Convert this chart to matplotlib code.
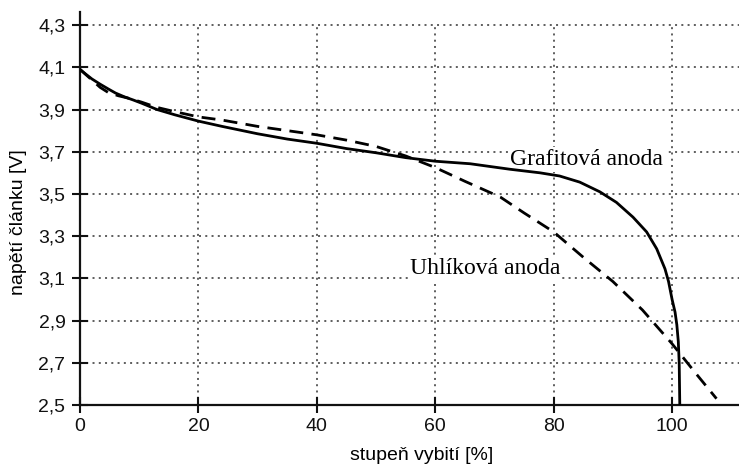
import matplotlib
matplotlib.use("Agg")
import matplotlib.pyplot as plt

# Grafitová anoda (solid)
graf_x = [0, 1, 2, 3.4, 4.8, 6, 7.5, 9, 10.4, 13, 16, 20, 24, 30, 35, 40, 45, 50, 55, 60, 65.9,
          72.6, 77.7, 81, 84.4, 87.8, 90.6, 93.4, 95.7, 97.4, 98.8, 99.4, 100.0, 100.5, 100.8,
          101.05, 101.2, 101.3]
graf_y = [4.09, 4.067, 4.045, 4.02, 3.997, 3.978, 3.96, 3.945, 3.93, 3.90, 3.875, 3.845, 3.82,
          3.785, 3.76, 3.74, 3.715, 3.695, 3.672, 3.655, 3.643, 3.617, 3.60, 3.585, 3.556, 3.51,
          3.46, 3.39, 3.32, 3.24, 3.145, 3.085, 3.0, 2.94, 2.88, 2.80, 2.70, 2.50]

# Uhlíková anoda (dashed)
uhl_x = [0, 1, 2, 3.4, 4.8, 6.5, 8, 10.4, 13, 16, 20, 24, 30, 35, 40, 45, 50, 55, 60, 65, 71,
         75, 80, 85, 90, 95, 100, 104, 107.5]
uhl_y = [4.09, 4.065, 4.04, 4.005, 3.98, 3.965, 3.955, 3.935, 3.91, 3.89, 3.865, 3.85, 3.82,
         3.80, 3.78, 3.755, 3.725, 3.68, 3.625, 3.56, 3.485, 3.41, 3.32, 3.20, 3.085, 2.95,
         2.79, 2.65, 2.53]

x_ticks = [0, 20, 40, 60, 80, 100]
y_ticks = [2.5, 2.7, 2.9, 3.1, 3.3, 3.5, 3.7, 3.9, 4.1, 4.3]
y_tick_labels = ["2,5", "2,7", "2,9", "3,1", "3,3", "3,5", "3,7", "3,9", "4,1", "4,3"]

x_label = "stupeň vybití [%]"
y_label = "napětí článku [V]"
label_graf = "Grafitová anoda"
label_uhl = "Uhlíková anoda"

plt.rcParams['font.family'] = ['Liberation Sans', 'DejaVu Sans']

fig = plt.figure(figsize=(7.39, 4.66), dpi=100)
ax = fig.add_axes([80/739, 61/466, 659/739, 393/466])
ax.set_xlim(0, 111.3)
ax.set_ylim(2.5, 4.362)

grid_kw = dict(color='#333333', linestyle=(0, (1.3, 2.8)), linewidth=1.1, zorder=1)
for yv in y_ticks[1:]:
    ax.axhline(yv, **grid_kw)
ax.vlines(x_ticks[1:], 2.5, 4.3, **grid_kw)

ax.plot(graf_x, graf_y, color='black', linewidth=2.0, zorder=3)
ax.plot(uhl_x, uhl_y, color='black', linewidth=2.0, linestyle=(0, (5, 3)), zorder=3)

for s in ['top', 'right']:
    ax.spines[s].set_visible(False)
for s in ['left', 'bottom']:
    ax.spines[s].set_linewidth(1.6)
    ax.spines[s].set_color('#111111')

ax.set_xticks(x_ticks)
ax.set_yticks(y_ticks)
ax.set_yticklabels(y_tick_labels)
ax.tick_params(direction='inout', length=11, width=1.5, labelsize=14, colors='#111111')
ax.tick_params(axis='y', pad=5)
ax.tick_params(axis='x', pad=4)

ax.set_xlabel(x_label, fontsize=14, va='center', ha='center')
ax.xaxis.set_label_coords(0.519, -0.128)
ax.set_ylabel(y_label, fontsize=14, va='center', ha='center')
ax.yaxis.set_label_coords(-0.0926, 0.466)

ax.text(85.6, 3.636, label_graf, family='Liberation Serif', fontsize=17, ha='center', va='baseline',
        bbox=dict(facecolor='white', edgecolor='none', pad=1.5), zorder=2)
ax.text(68.5, 3.12, label_uhl, family='Liberation Serif', fontsize=17, ha='center', va='baseline',
        bbox=dict(facecolor='white', edgecolor='none', pad=1.0), zorder=2)

fig.savefig("out.png", dpi=100)
